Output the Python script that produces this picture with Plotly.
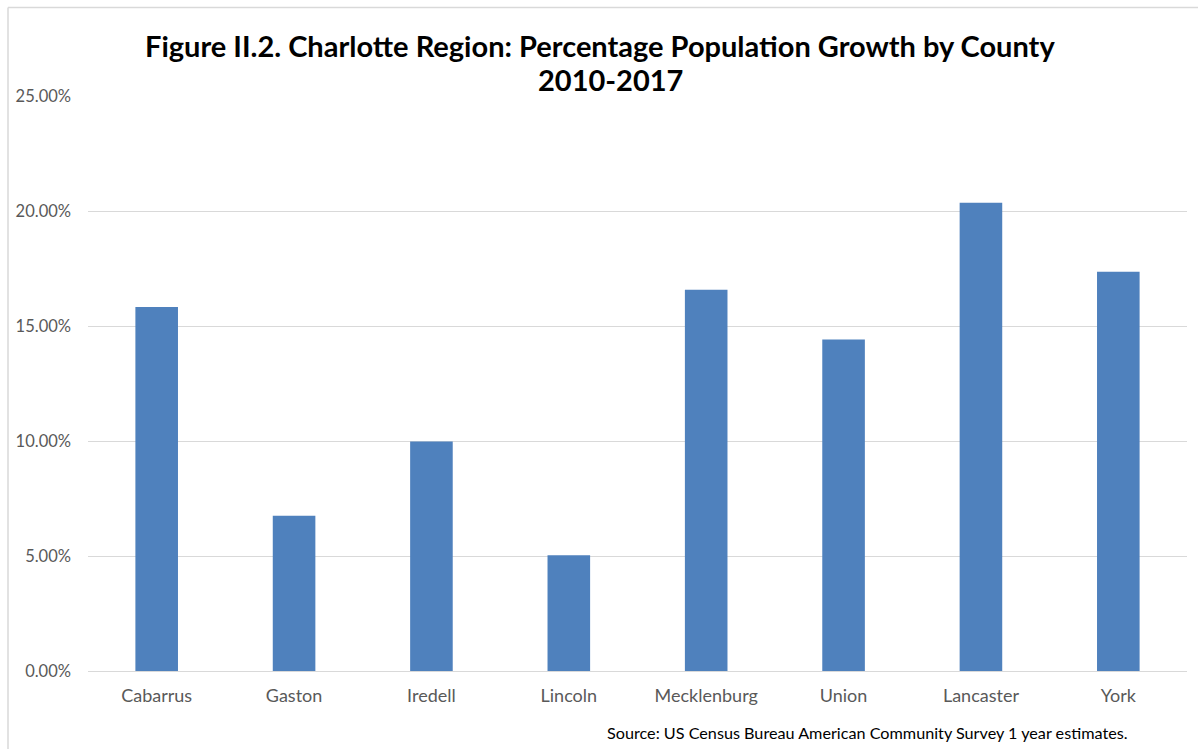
import plotly.graph_objects as go

counties = ["Cabarrus", "Gaston", "Iredell", "Lincoln", "Mecklenburg", "Union", "Lancaster", "York"]
growth = [0.1583, 0.0675, 0.0998, 0.0503, 0.1658, 0.1441, 0.2036, 0.1736]
y_ticks = [0, 0.05, 0.10, 0.15, 0.20, 0.25]

# pixel geometry of plot area (screen coords)
L, R, T, B = 88, 1187, 95.5, 671
W, H = 1198, 749
PW, PH = R - L, B - T


def px(x):
    return (x - L) / PW


def py(y):
    return (B - y) / PH


FONT = "Lato, Open Sans, sans-serif"

fig = go.Figure()
fig.add_trace(go.Bar(
    x=counties, y=growth,
    marker=dict(color="#4F81BD", line=dict(width=0)),
    hoverinfo="x+y",
))

fig.update_layout(
    width=W, height=H,
    margin=dict(l=L, r=W - R, t=T, b=H - B, autoexpand=False),
    paper_bgcolor="white", plot_bgcolor="white",
    bargap=0.69,
    showlegend=False,
    font=dict(family=FONT, color="#595959"),
    xaxis=dict(
        showgrid=False, showline=False, ticks="", automargin=False,
        tickfont=dict(size=18, color="#595959"),
        ticklabelstandoff=12,
    ),
    yaxis=dict(
        range=[0, 0.25], tickvals=y_ticks, tickformat=".2%", automargin=False,
        showgrid=True, gridcolor="#D9D9D9", gridwidth=1.3,
        zeroline=True, zerolinecolor="#D9D9D9", zerolinewidth=1.3,
        showline=False, ticks="",
        tickfont=dict(size=16.5, color="#595959"),
        ticklabelstandoff=16,
    ),
)

# title (two centred lines)
fig.add_annotation(
    text="<b>Figure II.2. Charlotte Region: Percentage Population Growth by County</b>",
    xref="paper", yref="paper", x=px(600), y=py(45),
    xanchor="center", yanchor="middle", showarrow=False,
    font=dict(size=29, color="black", family=FONT),
)
fig.add_annotation(
    text="<b>2010-2017</b>",
    xref="paper", yref="paper", x=px(610), y=py(79),
    xanchor="center", yanchor="middle", showarrow=False,
    font=dict(size=29, color="black", family=FONT),
)

fig.add_annotation(
    text="Source: US Census Bureau American Community Survey 1 year estimates.",
    xref="paper", yref="paper", x=px(1130), y=py(733),
    xanchor="right", yanchor="middle", showarrow=False,
    font=dict(size=16.2, color="black", family=FONT),
)

# outer chart border (left and top edges visible in the reference)
fig.add_shape(type="line", xref="paper", yref="paper", layer="above",
              x0=px(8), x1=px(8), y0=py(W), y1=py(7),
              line=dict(color="#D9D9D9", width=1.5))
fig.add_shape(type="line", xref="paper", yref="paper", layer="above",
              x0=px(8), x1=px(W), y0=py(7), y1=py(7),
              line=dict(color="#D9D9D9", width=1.5))

fig.write_html(
    "out.html",
    config={"displayModeBar": False},
    post_script="document.body.style.margin='0px';document.body.style.overflow='hidden';",
)
